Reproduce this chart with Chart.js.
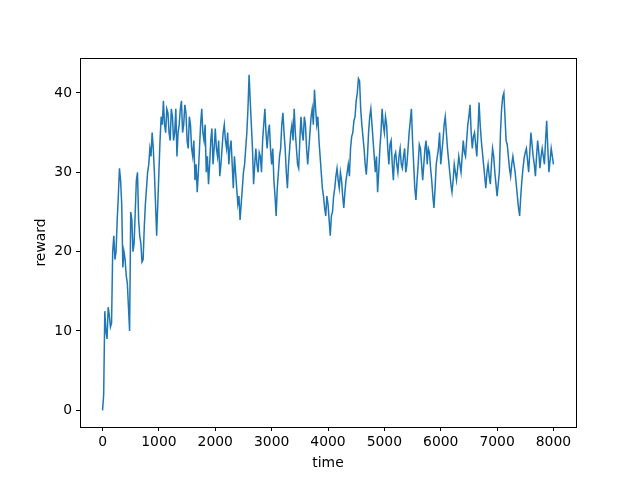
<!DOCTYPE html>
<html lang="en">
<head>
    <meta charset="UTF-8">
    <title>reward over time</title>
    <script src="https://cdn.jsdelivr.net/npm/chart.js"></script>
    <style>
        body { margin: 0; background: #fff; }
    </style>
</head>
<body>
    <canvas id="chartCanvas" width="640" height="480"></canvas>

    <script>
        // time step between samples
        const timeStep = 20;
        // reward, read roughly every 20 time units (one row = 400 time units)
        const reward = [
            0, 2, 12.5, 10, 9, 13, 12, 10.5, 11, 20, 22, 19, 20, 24, 27, 30.5, 29, 26, 18, 20,
            19, 17, 16, 13, 10, 25, 24, 20, 21, 25, 29, 30, 24, 22, 21, 18.7, 19, 23, 26, 28,
            30, 31, 33, 32, 35, 33, 30, 26, 22, 26, 30, 34, 37, 36, 39, 36, 35, 38, 37.5, 35,
            34, 38, 37, 34, 35, 38, 32, 35, 36, 38, 39, 35, 36, 38.5, 37.5, 34, 33, 37, 36, 33,
            32, 34, 29, 31, 27.5, 30, 33, 36, 38, 35, 34, 36, 30, 32, 28.5, 31, 34, 35.5, 31, 33,
            35.5, 33, 32, 34, 29.5, 31, 33, 35, 36, 34, 33, 35, 31, 33, 34, 31, 28, 32, 30, 28,
            26, 27, 24, 26, 28, 30, 31, 33, 35, 38, 42.3, 39, 36, 33, 28.5, 31, 33, 31, 30, 32.5,
            32, 30, 34, 36, 38, 35, 33, 35, 36, 33, 31, 33, 29, 27, 24.5, 28, 30, 32, 33, 36,
            37.5, 35, 33, 30, 28, 31, 33, 35, 36, 34, 38, 35, 33, 31, 30.5, 34, 37, 35, 34, 37,
            36, 33, 31, 33, 35, 37, 38, 36, 40.4, 38, 36, 37, 34, 32, 30, 28, 27, 25.5, 24.5, 27,
            26, 24, 22, 24.5, 25, 27, 28, 29.5, 30.5, 29, 28, 30, 29, 27, 25.5, 27.5, 29, 30, 31, 29.5,
            33, 34.5, 35, 36.5, 37, 39, 40, 41.8, 41.5, 38, 36, 34.5, 33, 31, 29.7, 32, 35, 37, 38, 36,
            34, 32, 30, 32, 27.5, 30, 33, 35, 38, 36, 35, 37, 36, 33, 31, 33.5, 34, 31, 29, 32,
            32.5, 31, 30, 32, 33, 31, 30.5, 32, 33, 30, 31, 33, 35, 36.5, 38, 34, 31, 28, 26.5, 29,
            31, 33.5, 33, 31, 29, 31, 33, 34, 31, 33, 32.5, 30.5, 29, 27, 25.5, 28, 31, 32, 33, 35,
            31, 32.5, 34, 36, 37, 35, 33, 31.5, 30, 28.5, 27.5, 29, 31, 30, 29, 30.5, 32, 31, 30, 32,
            34, 32.5, 32, 34, 36, 37, 38.5, 35, 33, 34.5, 35, 33.5, 32, 35, 38.8, 36, 34, 32.5, 31, 29.5,
            28, 30, 31, 29.5, 28.5, 31, 33, 32, 30, 28.5, 27, 28.5, 30, 35, 38, 39.5, 40, 37, 34, 33.5,
            32, 30.5, 29.5, 31, 32, 31, 30, 28.5, 27, 25.5, 24.5, 27, 29, 30.5, 31.8, 32.5, 33, 31.5, 30, 32.5,
            35, 33.5, 32, 31, 29.5, 32, 34, 32.5, 30.5, 32, 33, 32, 31, 34, 36.5, 33, 30, 31.5, 33, 32,
            31
        ];
        const xTicks = [0, 1000, 2000, 3000, 4000, 5000, 6000, 7000, 8000];
        const yTicks = [0, 10, 20, 30, 40];

        const points = reward.map((r, i) => ({ x: i * timeStep, y: r }));

        const font = { family: 'DejaVu Sans', size: 13.9 };

        const ctx = document.getElementById('chartCanvas').getContext('2d');
        new Chart(ctx, {
            type: 'line',
            data: {
                datasets: [{
                    data: points,
                    borderColor: '#1f77b4',
                    borderWidth: 1.5,
                    pointRadius: 0,
                    tension: 0,
                    fill: false
                }]
            },
            options: {
                responsive: false,
                animation: false,
                layout: { padding: { left: 0, top: 58, right: 64, bottom: 0 } },
                plugins: { legend: { display: false }, tooltip: { enabled: false } },
                scales: {
                    x: {
                        type: 'linear',
                        min: -400,
                        max: 8400,
                        afterBuildTicks: (s) => { s.ticks = xTicks.map(v => ({ value: v })); },
                        afterFit: (s) => { s.height = 53; },
                        grid: { drawOnChartArea: false, tickLength: 4, tickColor: '#000', tickWidth: 1 },
                        border: { color: '#000', width: 1 },
                        ticks: { color: '#000', font: font, padding: 3, maxRotation: 0, callback: v => String(v) },
                        title: { display: true, text: 'time', color: '#000', font: font, padding: { top: 8, bottom: 8 } }
                    },
                    y: {
                        min: -2.1,
                        max: 44.4,
                        afterBuildTicks: (s) => { s.ticks = yTicks.map(v => ({ value: v })); },
                        afterFit: (s) => { s.width = 80; },
                        grid: { drawOnChartArea: false, tickLength: 4, tickColor: '#000', tickWidth: 1 },
                        border: { color: '#000', width: 1 },
                        ticks: { color: '#000', font: font, padding: 4, callback: v => String(v) },
                        title: { display: true, text: 'reward', color: '#000', font: font, padding: { top: 33, bottom: 33 } }
                    }
                }
            },
            plugins: [{
                // matplotlib draws a full box round the axes
                id: 'frame',
                afterDraw(chart) {
                    const a = chart.chartArea;
                    const c = chart.ctx;
                    c.save();
                    c.strokeStyle = '#000';
                    c.lineWidth = 1;
                    c.strokeRect(a.left + 0.5, a.top + 0.5, a.right - a.left, a.bottom - a.top);
                    c.restore();
                }
            }]
        });
    </script>
</body>
</html>
